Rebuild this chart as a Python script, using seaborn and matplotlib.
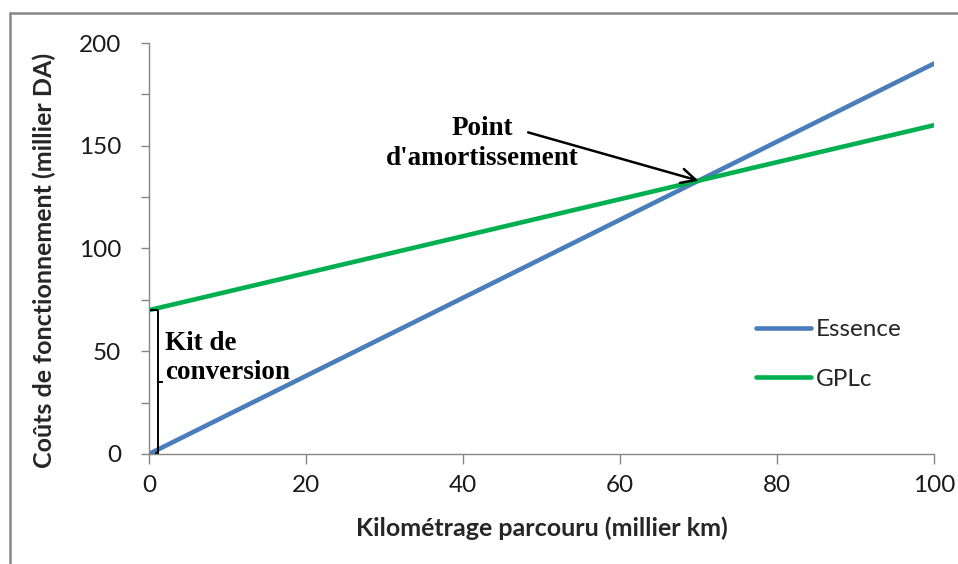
import matplotlib
matplotlib.use("Agg")
import matplotlib.pyplot as plt
from matplotlib.lines import Line2D
from matplotlib.ticker import MultipleLocator
import seaborn as sns
import pandas as pd

# ---- data ----
km = [0, 100]
essence = [0, 190]
gplc = [70, 160]
series_names = ["Essence", "GPLc"]
x_ticks = [0, 20, 40, 60, 80, 100]
y_ticks = [0, 50, 100, 150, 200]
breakeven = (70, 133)

df = pd.DataFrame({
    "km": km * 2,
    "cost": essence + gplc,
    "serie": [series_names[0]] * len(km) + [series_names[1]] * len(km),
})

sns.set_style("white")
plt.rcParams["font.family"] = ["Lato", "DejaVu Sans"]

W, H = 958, 564
fig = plt.figure(figsize=(W / 100, H / 100), dpi=100)
ax = fig.add_axes([149 / W, 1 - 454 / H, (934 - 149) / W, (454 - 43) / H])

palette = {"Essence": "#4A7EBB", "GPLc": "#00B050"}
sns.lineplot(data=df, x="km", y="cost", hue="serie", palette=palette,
             linewidth=3.3, ax=ax, legend=True)

ax.set_xlim(0, 100)
ax.set_ylim(0, 200)
ax.set_xticks(x_ticks)
ax.set_yticks(y_ticks)
ax.yaxis.set_minor_locator(MultipleLocator(25))
gray = "#868686"
for s in ["top", "right"]:
    ax.spines[s].set_visible(False)
for s in ["left", "bottom"]:
    ax.spines[s].set_color(gray)
    ax.spines[s].set_linewidth(1)
ax.tick_params(axis="both", which="both", direction="out", color=gray, width=1,
               labelsize=17.5, labelcolor="#1a1a1a")
ax.tick_params(axis="y", which="major", length=6, pad=14)
ax.tick_params(axis="y", which="minor", length=6)
ax.tick_params(axis="x", which="major", length=7, pad=8, bottom=True)
ax.tick_params(axis="y", left=True, which="both")

ax.set_xlabel("Kilométrage parcouru (millier km)", fontsize=18, fontweight="bold")
ax.set_ylabel("Coûts de fonctionnement (millier DA)", fontsize=18, fontweight="bold")
ax.xaxis.set_label_coords(0.5, -0.151)
ax.yaxis.set_label_coords(-0.1185, 0.47)

leg = ax.legend(loc="upper left", bbox_to_anchor=(756 / W, 1 - 319 / H),
                bbox_transform=fig.transFigure, frameon=False, fontsize=17.5,
                handlelength=2.26, handletextpad=0.2, labelspacing=1.19,
                borderpad=0, borderaxespad=0)
for line in leg.get_lines():
    line.set_linewidth(3.3)

# annotations
serif = ["Liberation Serif", "DejaVu Serif"]
fs_ann = 19.5
ax.text(42.5, 158.6, "Point", family=serif, fontweight="bold", fontsize=fs_ann,
        ha="center", va="center", color="black")
ax.text(42.5, 144.0, "d'amortissement", family=serif, fontweight="bold",
        fontsize=fs_ann, ha="center", va="center", color="black")
ax.annotate("", xy=breakeven, xytext=(48.3, 156.5),
            arrowprops=dict(arrowstyle="->", lw=1.8, color="black",
                            mutation_scale=26, shrinkA=0, shrinkB=0))

ax.text(2.04, 54.0, "Kit de", family=serif, fontweight="bold", fontsize=fs_ann,
        ha="left", va="center", color="black")
ax.text(2.04, 39.9, "conversion", family=serif, fontweight="bold", fontsize=fs_ann,
        ha="left", va="center", color="black")
bx = 1.15
kw = dict(color="black", lw=1.4, clip_on=False, solid_capstyle="butt")
ax.plot([bx, bx], [essence[0], gplc[0]], **kw)
ax.plot([0.13, bx], [gplc[0], gplc[0]], **kw)
ax.plot([0.76, bx], [essence[0] + 0.3, essence[0] + 0.3], **kw)
ax.plot([bx, 1.78], [gplc[0] / 2, gplc[0] / 2], **kw)

# figure border (top & left)
fig.add_artist(Line2D([10 / W, 10 / W], [0, 1 - 13 / H], transform=fig.transFigure,
                      color=gray, lw=1.8))
fig.add_artist(Line2D([10 / W, 1], [1 - 13 / H, 1 - 13 / H], transform=fig.transFigure,
                      color=gray, lw=1.8))

fig.savefig("out.png", dpi=100)
